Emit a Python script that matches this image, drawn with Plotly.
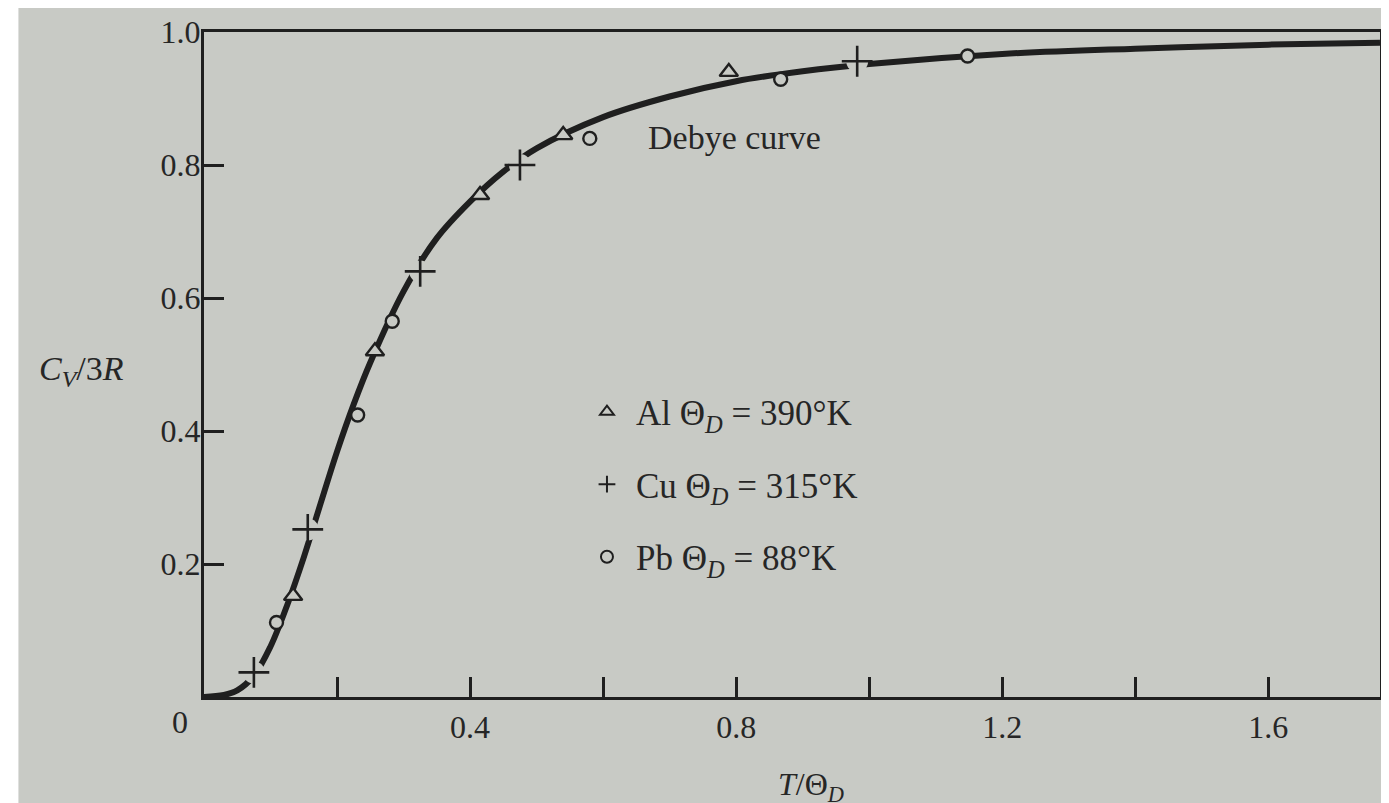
import plotly.graph_objects as go

# ---- data ----
curve_x = [0.0, 0.03, 0.05, 0.075, 0.1, 0.125, 0.15, 0.175, 0.2, 0.225, 0.25, 0.3, 0.35,
           0.4, 0.45, 0.5, 0.6, 0.7, 0.8, 0.9, 1.0, 1.2, 1.4, 1.6, 1.768]
curve_y = [0.0, 0.003, 0.010, 0.032, 0.076, 0.138, 0.21, 0.29, 0.369, 0.44, 0.503, 0.61, 0.69,
           0.745, 0.79, 0.825, 0.872, 0.903, 0.926, 0.941, 0.952, 0.967, 0.975, 0.981, 0.984]

al_x = [0.134, 0.257, 0.415, 0.54, 0.789]
al_y = [0.152, 0.52, 0.755, 0.845, 0.94]

cu_x = [0.075, 0.156, 0.325, 0.475, 0.982]
cu_y = [0.037, 0.252, 0.64, 0.80, 0.956]

pb_x = [0.109, 0.231, 0.283, 0.58, 0.867, 1.148]
pb_y = [0.112, 0.424, 0.565, 0.84, 0.929, 0.964]

x_tickvals = [0.2, 0.4, 0.6, 0.8, 1.0, 1.2, 1.4, 1.6]
x_ticktext = ["", "0.4", "", "0.8", "", "1.2", "", "1.6"]
y_tickvals = [0.2, 0.4, 0.6, 0.8, 1.0]
y_ticktext = ["0.2", "0.4", "0.6", "0.8", "1.0"]

INK = "#1f1f1f"
PAPER = "#c8cac5"
FONT = "Liberation Serif"

fig = go.Figure()

# Debye curve
fig.add_trace(go.Scatter(x=curve_x, y=curve_y, mode="lines", line=dict(color=INK, width=6, shape="spline"),
                         showlegend=False, hoverinfo="skip"))
# paper-coloured gaps behind the + markers
fig.add_trace(go.Scatter(x=cu_x, y=cu_y, mode="markers",
                         marker=dict(symbol="circle", size=22, color=PAPER, line=dict(width=0)),
                         showlegend=False, hoverinfo="skip"))

fig.add_trace(go.Scatter(x=al_x, y=al_y, mode="markers", name="Al Θ<sub><i>D</i></sub> = 390°K",
                         legendgroup="al",
                         marker=dict(symbol="triangle-up", size=16, color=PAPER, line=dict(color=INK, width=2.4))))
fig.add_trace(go.Scatter(x=cu_x, y=cu_y, mode="markers", name="Cu Θ<sub><i>D</i></sub> = 315°K",
                         legendgroup="cu",
                         marker=dict(symbol="cross-thin", size=22, color=INK, line=dict(color=INK, width=2.6))))
fig.add_trace(go.Scatter(x=pb_x, y=pb_y, mode="markers", name="Pb Θ<sub><i>D</i></sub> = 88°K",
                         legendgroup="pb",
                         marker=dict(symbol="circle", size=13, color=PAPER, line=dict(color=INK, width=2.4))))

# white strip at the left edge of the photo
fig.add_shape(type="rect", xref="paper", yref="paper", x0=-0.17, x1=-0.1578, y0=-0.2, y1=1.1,
              fillcolor="white", line=dict(width=0), layer="below")

fig.update_layout(
    width=1381, height=795,
    margin=dict(l=196, r=6, t=19, b=106),
    paper_bgcolor=PAPER,
    plot_bgcolor=PAPER,
    font=dict(family=FONT, size=32, color="#262626"),
    showlegend=True,
    legend=dict(x=0.318, y=0.473, xanchor="left", yanchor="top", bgcolor="rgba(0,0,0,0)",
                font=dict(family=FONT, size=35, color="#262626"), tracegroupgap=24,
                traceorder="grouped", itemsizing="constant", itemwidth=48),
    xaxis=dict(range=[0, 1.768], showgrid=False, zeroline=False, showline=True, linecolor=INK, linewidth=3,
               mirror=True, ticks="inside", ticklen=20, tickwidth=2.5, tickcolor=INK,
               tickvals=x_tickvals, ticktext=x_ticktext, tickfont=dict(size=32)),
    yaxis=dict(range=[0, 1.0], showgrid=False, zeroline=False, showline=True, linecolor=INK, linewidth=3,
               mirror=True, ticks="inside", ticklen=20, tickwidth=2.5, tickcolor=INK,
               tickvals=y_tickvals, ticktext=y_ticktext, tickfont=dict(size=32),
               ticklabelstandoff=-6),
    annotations=[
        dict(text="0", xref="paper", yref="paper", x=-0.0204, y=-0.038, showarrow=False,
             font=dict(size=32), xanchor="center", yanchor="middle"),
        dict(text="<i>C<sub>V</sub></i>/3<i>R</i>", xref="paper", yref="paper", x=-0.104, y=0.49,
             showarrow=False, font=dict(size=34), xanchor="center", yanchor="middle"),
        dict(text="<i>T</i>/Θ<sub><i>D</i></sub>", xref="paper", yref="paper", x=0.516, y=-0.135,
             showarrow=False, font=dict(size=32), xanchor="center", yanchor="middle"),
        dict(text="Debye curve", xref="paper", yref="paper", x=0.451, y=0.842,
             showarrow=False, font=dict(size=34), xanchor="center", yanchor="middle"),
    ],
)

fig.write_html("out.html")
